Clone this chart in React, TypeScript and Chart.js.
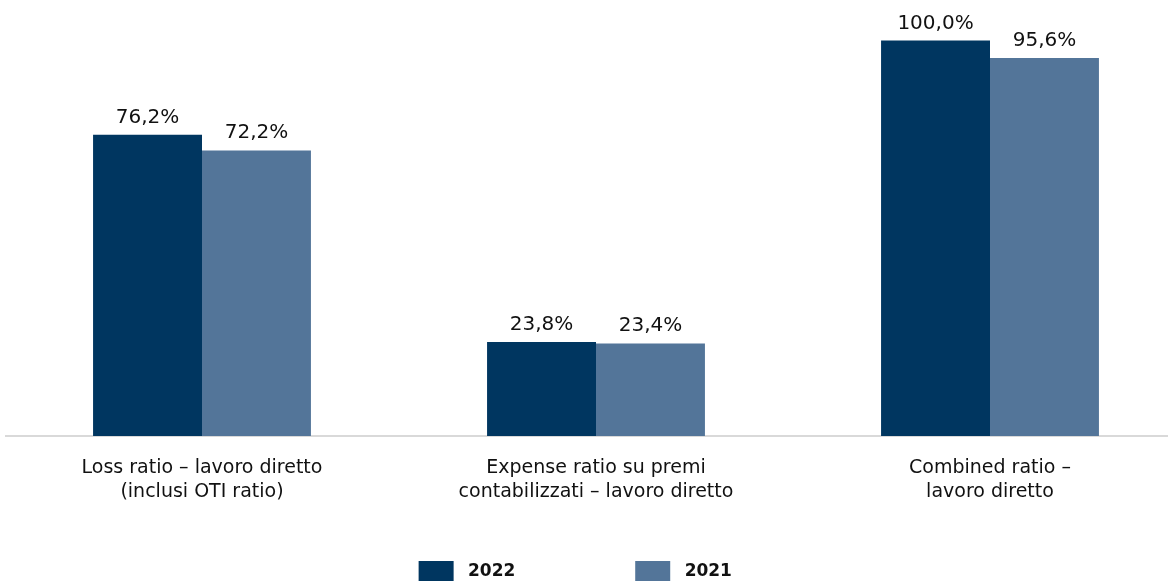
import React, { useEffect, useRef } from "react";
import { Chart, registerables } from "chart.js";

Chart.register(...registerables);

const categories: string[][] = [
  ["Loss ratio – lavoro diretto", "(inclusi OTI ratio)"],
  ["Expense ratio su premi", "contabilizzati – lavoro diretto"],
  ["Combined ratio –", "lavoro diretto"],
];
const series2022: number[] = [76.2, 23.8, 100.0];
const series2021: number[] = [72.2, 23.4, 95.6];
const seriesNames: string[] = ["2022", "2021"];
const colors: string[] = ["#003660", "#537599"];

const FONT = "'DejaVu Sans', sans-serif";

const fmt = (v: number) => v.toFixed(1).replace(".", ",") + "%";

const valueLabels = {
  id: "valueLabels",
  afterDatasetsDraw(chart: any) {
    const ctx = chart.ctx;
    ctx.save();
    ctx.font = `400 20px ${FONT}`;
    ctx.fillStyle = "#111111";
    ctx.textAlign = "center";
    ctx.textBaseline = "alphabetic";
    chart.data.datasets.forEach((ds: any, di: number) => {
      const meta = chart.getDatasetMeta(di);
      meta.data.forEach((bar: any, i: number) => {
        ctx.fillText(fmt(ds.data[i]), bar.x, bar.y - 12);
      });
    });
    ctx.restore();
  },
};

export default function App() {
  const ref = useRef<HTMLCanvasElement | null>(null);
  useEffect(() => {
    if (!ref.current) return;
    const chart = new Chart(ref.current, {
      type: "bar",
      data: {
        labels: categories,
        datasets: [
          { label: seriesNames[0], data: series2022, backgroundColor: colors[0] },
          { label: seriesNames[1], data: series2021, backgroundColor: colors[1] },
        ],
      },
      options: {
        responsive: true,
        maintainAspectRatio: false,
        animation: false,
        layout: { padding: { top: 1, left: 0, right: 0, bottom: 0 } },
        datasets: {
          bar: { categoryPercentage: 0.553, barPercentage: 1 },
        },
        scales: {
          x: {
            grid: { display: false, drawTicks: false },
            border: { display: true, color: "#d9d9d9", width: 2 },
            ticks: {
              padding: 20,
              color: "#111111",
              font: { family: FONT, size: 19, lineHeight: 1.263 },
            },
          },
          y: {
            display: false,
            min: 0,
            max: 110,
          },
        },
        plugins: {
          tooltip: { enabled: false },
          legend: {
            position: "bottom",
            labels: {
              boxWidth: 35,
              boxHeight: 22,
              padding: 37,
              color: "#111111",
              font: { family: FONT, size: 17, weight: "bold" },
              generateLabels: (c: any) => {
                const items = Chart.defaults.plugins.legend.labels.generateLabels(c);
                return items.map((it: any, i: number) => ({
                  ...it,
                  text: i === 0 ? " " + it.text + "              " : " " + it.text + "       ",
                  lineWidth: 0,
                }));
              },
            },
          },
        },
      },
      plugins: [valueLabels],
    });
    return () => chart.destroy();
  }, []);
  return (
    <div style={{ position: "fixed", left: 0, top: 0, width: 1168, height: 581, overflow: "hidden", background: "#fff" }}>
      <div style={{ position: "absolute", left: 5, top: 0, width: 1182, height: 593 }}>
        <canvas ref={ref} />
      </div>
    </div>
  );
}
